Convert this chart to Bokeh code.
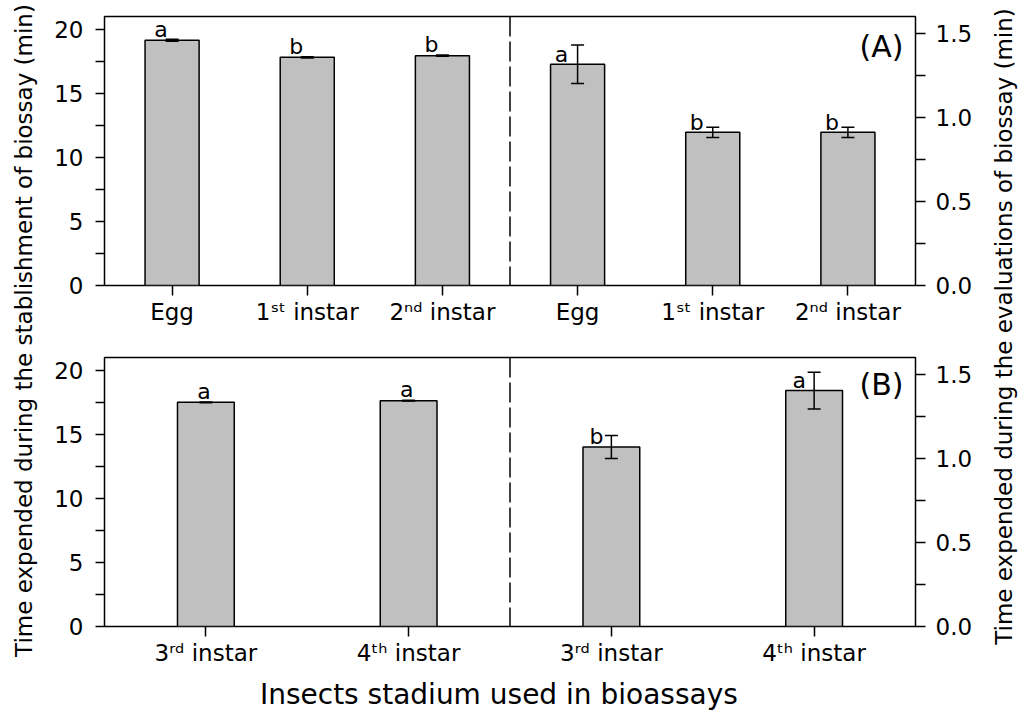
import numpy as np
from bokeh.plotting import figure
from bokeh.models import (ColumnDataSource, Range1d, LinearAxis, FixedTicker, Whisker,
                          TeeHead, Span, Label, PrintfTickFormatter)
from bokeh.layouts import row, column
from bokeh.embed import file_html
from bokeh.resources import INLINE
from bokeh.core.properties import value

# ---------------- data ----------------
top_stages = ["Egg", "1ˢᵗ instar", "2ⁿᵈ instar"]
top_setup_mean = [19.14, 17.81, 17.94]
top_setup_se = [0.08, 0.05, 0.05]
top_setup_letters = ["a", "b", "b"]
top_eval_mean = [1.316, 0.911, 0.911]
top_eval_se = [0.115, 0.030, 0.030]
top_eval_letters = ["a", "b", "b"]

bottom_stages = ["3ʳᵈ instar", "4ᵗʰ instar"]
bottom_setup_mean = [17.50, 17.63]
bottom_setup_se = [0.03, 0.03]
bottom_setup_letters = ["a", "a"]
bottom_eval_mean = [1.068, 1.403]
bottom_eval_se = [0.068, 0.110]
bottom_eval_letters = ["b", "a"]

setup_ticks = [0, 5, 10, 15, 20]
setup_minor = [2.5, 7.5, 12.5, 17.5]
eval_ticks = [0.0, 0.5, 1.0, 1.5]
eval_minor = [0.25, 0.75, 1.25]

left_title = "Time expended during the stablishment of biossay (min)"
right_title = "Time expended during the evaluations of biossay (min)"
x_title = "Insects stadium used in bioassays"
panel_tags = ["(A)", "(B)"]

FONT = "DejaVu Sans"
BAR_FILL = "#c0c0c0"
MID_W = 946


def panel(stages, s_mean, s_se, s_let, e_mean, e_se, e_let, bar_w, tag,
          height, top_b, bottom_b, dx_left, dx_right, tag_dy):
    n = len(stages)
    x_setup = np.arange(1, n + 1)
    x_eval = x_setup + n
    p = figure(width=MID_W, height=height, x_range=Range1d(0.5, 2 * n + 0.5),
               y_range=Range1d(0, 21), output_backend="svg", toolbar_location=None,
               min_border_left=64, min_border_right=71, min_border_top=top_b,
               min_border_bottom=bottom_b)
    p.extra_y_ranges = {"eval": Range1d(0, 1.6)}
    p.grid.visible = False
    p.outline_line_color = "black"
    p.outline_line_width = 1.5
    p.background_fill_color = "white"
    p.border_fill_color = "white"

    # left axis
    ya = p.yaxis[0]
    ya.ticker = FixedTicker(ticks=setup_ticks, minor_ticks=setup_minor)
    ya.axis_line_color = None
    ya.major_tick_in = 0
    ya.minor_tick_in = 0
    ya.major_tick_out = 9
    ya.minor_tick_out = 9
    ya.major_tick_line_width = 1.5
    ya.minor_tick_line_width = 1.5
    ya.major_label_standoff = 12
    ya.major_label_text_font = FONT
    ya.major_label_text_font_size = "23px"
    ya.major_label_text_color = "black"

    # right axis
    ra = LinearAxis(y_range_name="eval",
                    ticker=FixedTicker(ticks=eval_ticks, minor_ticks=eval_minor),
                    formatter=PrintfTickFormatter(format="%.1f"))
    ra.axis_line_color = None
    ra.major_tick_in = 0
    ra.minor_tick_in = 0
    ra.major_tick_out = 10
    ra.minor_tick_out = 10
    ra.major_tick_line_width = 1.5
    ra.minor_tick_line_width = 1.5
    ra.major_label_standoff = 10
    ra.major_label_text_font = FONT
    ra.major_label_text_font_size = "23px"
    ra.major_label_text_color = "black"
    p.add_layout(ra, "right")

    # bottom axis
    xa = p.xaxis[0]
    all_x = [int(v) for v in x_setup] + [int(v) for v in x_eval]
    xa.ticker = FixedTicker(ticks=all_x, minor_ticks=[])
    xa.major_label_overrides = {k: lab for k, lab in zip(all_x, list(stages) * 2)}
    xa.axis_line_color = None
    xa.major_tick_in = 0
    xa.major_tick_out = 10
    xa.minor_tick_out = 0
    xa.major_tick_line_width = 1.5
    xa.major_label_standoff = 3
    xa.major_label_text_font = FONT
    xa.major_label_text_font_size = "23px"
    xa.major_label_text_color = "black"

    s_src = ColumnDataSource(dict(x=x_setup, top=s_mean,
                                  upper=np.array(s_mean) + np.array(s_se),
                                  lower=np.array(s_mean) - np.array(s_se),
                                  let=s_let))
    e_src = ColumnDataSource(dict(x=x_eval, top=e_mean,
                                  upper=np.array(e_mean) + np.array(e_se),
                                  lower=np.array(e_mean) - np.array(e_se),
                                  let=e_let))

    p.vbar(x="x", top="top", width=bar_w, source=s_src, fill_color=BAR_FILL,
           line_color="black", line_width=1.5)
    p.vbar(x="x", top="top", width=bar_w, source=e_src, fill_color=BAR_FILL,
           line_color="black", line_width=1.5, y_range_name="eval")

    for src, rn in ((s_src, "default"), (e_src, "eval")):
        w = Whisker(base="x", upper="upper", lower="lower", source=src,
                    y_range_name=rn, line_color="black", line_width=1.5,
                    level="overlay",
                    upper_head=TeeHead(size=13, line_width=1.5, line_color="black"),
                    lower_head=TeeHead(size=13, line_width=1.5, line_color="black"))
        p.add_layout(w)

    p.text(x="x", y="top", text="let", source=s_src, x_offset=dx_left, y_offset=-11,
           text_align="center", text_baseline="alphabetic", text_font=value(FONT),
           text_font_size="22px", text_color="black")
    p.text(x="x", y="top", text="let", source=e_src, x_offset=dx_right, y_offset=-10,
           text_align="center", text_baseline="alphabetic", text_font=value(FONT),
           text_font_size="22px", text_color="black", y_range_name="eval")

    p.add_layout(Span(location=n + 0.5, dimension="height", line_color="black",
                      line_dash="20 5", line_width=1.5))

    p.text(x=[p.x_range.end], y=[p.y_range.end], text=[tag], x_offset=-12, y_offset=tag_dy,
           text_align="right", text_baseline="alphabetic", text_font=value(FONT),
           text_font_size="30px", text_color="black")
    return p


top = panel(top_stages, top_setup_mean, top_setup_se, top_setup_letters,
            top_eval_mean, top_eval_se, top_eval_letters, 0.40, panel_tags[0],
            height=335, top_b=16, bottom_b=50, dx_left=-11, dx_right=-16, tag_dy=30)
bottom = panel(bottom_stages, bottom_setup_mean, bottom_setup_se, bottom_setup_letters,
               bottom_eval_mean, bottom_eval_se, bottom_eval_letters, 0.28, panel_tags[1],
               height=339, top_b=22, bottom_b=48, dx_left=-2, dx_right=-15, tag_dy=27)


def title_fig(w, h, txt, x, y, angle, size, baseline):
    f = figure(width=w, height=h, x_range=Range1d(0, w), y_range=Range1d(0, h),
               output_backend="svg", toolbar_location=None, min_border=0,
               x_axis_location=None, y_axis_location=None, outline_line_color=None)
    f.grid.visible = False
    f.add_layout(Label(x=x, y=y, text=txt, angle=angle, text_align="center",
                       text_baseline=baseline, text_font=FONT, text_font_size=size,
                       text_color="black"))
    return f


left_f = title_fig(40, 711, left_title, 23, 381, np.pi / 2, "23px", "middle")
right_f = title_fig(32, 711, right_title, 17, 385, np.pi / 2, "23px", "middle")
xt_f = title_fig(MID_W, 37, x_title, 460, 1, 0, "28px", "bottom")

layout = row(left_f, column(top, bottom, xt_f), right_f)

open("out.html", "w").write(file_html(layout, INLINE))
